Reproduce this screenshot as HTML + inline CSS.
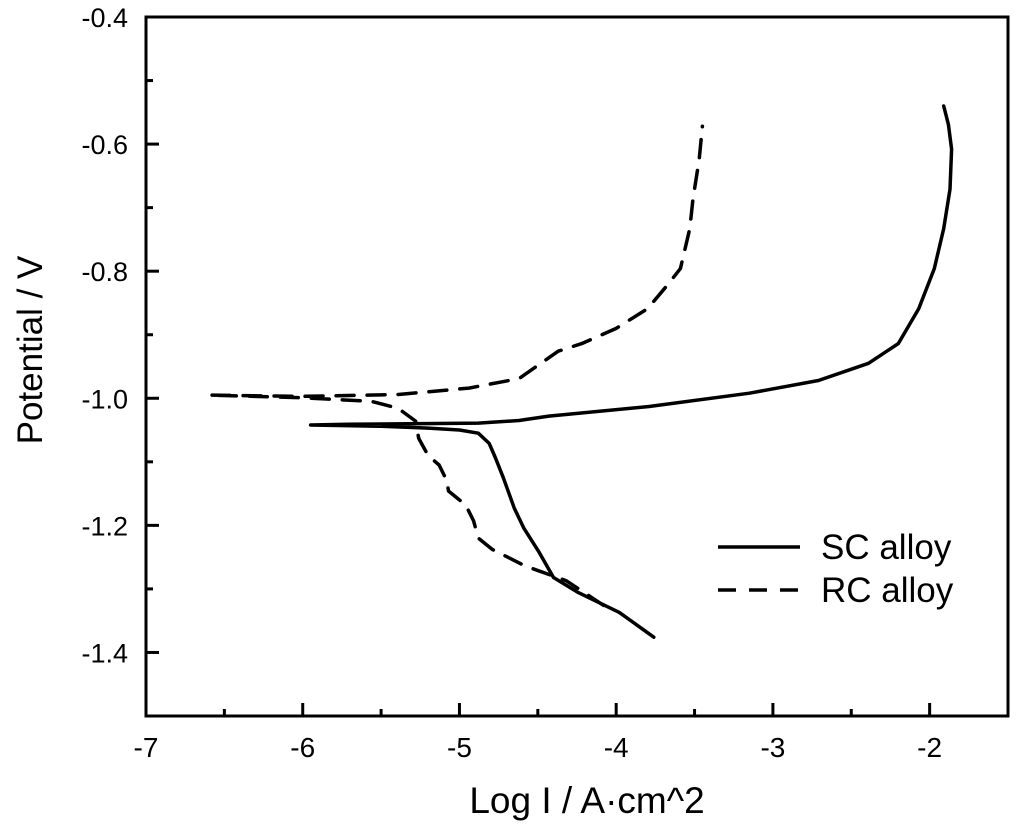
<!DOCTYPE html>
<html><head><meta charset="utf-8"><style>
html,body{margin:0;padding:0;background:#fff}
svg{display:block;font-family:"Liberation Sans",Arial,sans-serif}
</style></head><body>
<svg id="chart" width="1024" height="824" viewBox="0 0 1024 824">
<g id="marks"></g>
<g id="axes"></g>
</svg>
<script>
const xTicks = [-7,-6,-5,-4,-3,-2];
const yTicks = [-0.4,-0.6,-0.8,-1.0,-1.2,-1.4];
const yTickLabels = ["-0.4","-0.6","-0.8","-1.0","-1.2","-1.4"];
const scX = [-3.76,-3.98,-4.24,-4.40,-4.49,-4.59,-4.65,-4.72,-4.77,-4.81,-4.88,-5.00,-5.20,-5.51,-5.95,-5.71,-4.88,-4.62,-4.43,-3.79,-3.15,-2.71,-2.39,-2.20,-2.07,-1.97,-1.91,-1.87,-1.86,-1.88,-1.91];
const scY = [-1.376,-1.337,-1.306,-1.282,-1.243,-1.204,-1.173,-1.125,-1.094,-1.071,-1.055,-1.050,-1.047,-1.044,-1.042,-1.041,-1.039,-1.035,-1.028,-1.013,-0.992,-0.972,-0.945,-0.914,-0.859,-0.796,-0.733,-0.671,-0.608,-0.569,-0.540];
const rcX = [-4.08,-4.32,-4.58,-4.79,-4.88,-4.91,-4.96,-5.07,-5.08,-5.13,-5.20,-5.26,-5.28,-5.39,-5.56,-6.02,-6.60,-6.02,-5.39,-4.94,-4.62,-4.37,-4.22,-4.00,-3.80,-3.68,-3.59,-3.53,-3.51,-3.47,-3.45];
const rcY = [-1.326,-1.287,-1.264,-1.238,-1.220,-1.193,-1.168,-1.146,-1.130,-1.105,-1.090,-1.063,-1.036,-1.016,-1.005,-0.999,-0.995,-0.997,-0.994,-0.984,-0.969,-0.926,-0.914,-0.890,-0.859,-0.824,-0.796,-0.733,-0.686,-0.624,-0.572];

const L=146,R=1008,T=17,B=716, xMin=-7,xMax=-1.5,yMin=-1.5,yMax=-0.4;
const sx=v=>L+(v-xMin)/(xMax-xMin)*(R-L);
const sy=v=>B-(v-yMin)/(yMax-yMin)*(B-T);
const NS="http://www.w3.org/2000/svg";
const marks=document.getElementById('marks'), axes=document.getElementById('axes');
function mk(tag,attrs,parent){const e=document.createElementNS(NS,tag);for(const k in attrs)e.setAttribute(k,attrs[k]);parent.appendChild(e);return e;}

function series(xs,ys,dash,name){
  const d=xs.map((x,i)=>(i?'L':'M')+sx(x).toFixed(1)+' '+sy(ys[i]).toFixed(1)).join(' ');
  const p=mk('path',{d:d,fill:'none',stroke:'#000','stroke-width':3.5,'stroke-linejoin':'round','stroke-linecap':'round'},marks);
  if(dash)p.setAttribute('stroke-dasharray',dash);
  
  
}
series(scX,scY,null,'sc-alloy-curve');
series(rcX,rcY,'18 13','rc-alloy-curve');

const ax=mk('path',{d:`M${L} ${T} L${L} ${B} L${R} ${B} L${R} ${T} Z`,fill:'none',stroke:'#000','stroke-width':3},axes);


xTicks.forEach(v=>{
  const x=sx(v);
  const t=mk('line',{x1:x,y1:B,x2:x,y2:B-13,stroke:'#000','stroke-width':3},axes);
  
  
  const m=mk('line',{x1:sx(v+0.5),y1:B,x2:sx(v+0.5),y2:B-7,stroke:'#000','stroke-width':3},axes);
  
  
  const tx=mk('text',{x:x,y:757,'font-size':28,'text-anchor':'middle'},axes);
  tx.textContent=String(v);
  
  
});
yTicks.forEach((v,i)=>{
  const y=sy(v);
  const t=mk('line',{x1:L,y1:y,x2:L+13,y2:y,stroke:'#000','stroke-width':3},axes);
  
  
  const m=mk('line',{x1:L,y1:sy(v-0.1),x2:L+7,y2:sy(v-0.1),stroke:'#000','stroke-width':3},axes);
  
  
  const tx=mk('text',{x:128,y:y+10,'font-size':27,'text-anchor':'end'},axes);
  tx.textContent=yTickLabels[i];
  
  
});
const xt=mk('text',{x:587,y:813,'font-size':37,'text-anchor':'middle'},axes);
xt.textContent='Log I / A·cm^2';


const yt=mk('text',{x:0,y:0,'font-size':35,'text-anchor':'middle',transform:'translate(42,350) rotate(-90)'},axes);
yt.textContent='Potential / V';


[['SC alloy',547,null,'legend-entry-sc'],['RC alloy',590,'18 13','legend-entry-rc']].forEach(e=>{
  const g=mk('g',{},axes);
  
  
  const ln=mk('line',{x1:718,y1:e[1],x2:800,y2:e[1],stroke:'#000','stroke-width':3.5},g);
  if(e[2])ln.setAttribute('stroke-dasharray',e[2]);
  const tx=mk('text',{x:821,y:e[1]+12,'font-size':35},g);
  tx.textContent=e[0];
});
</script>
</body></html>
